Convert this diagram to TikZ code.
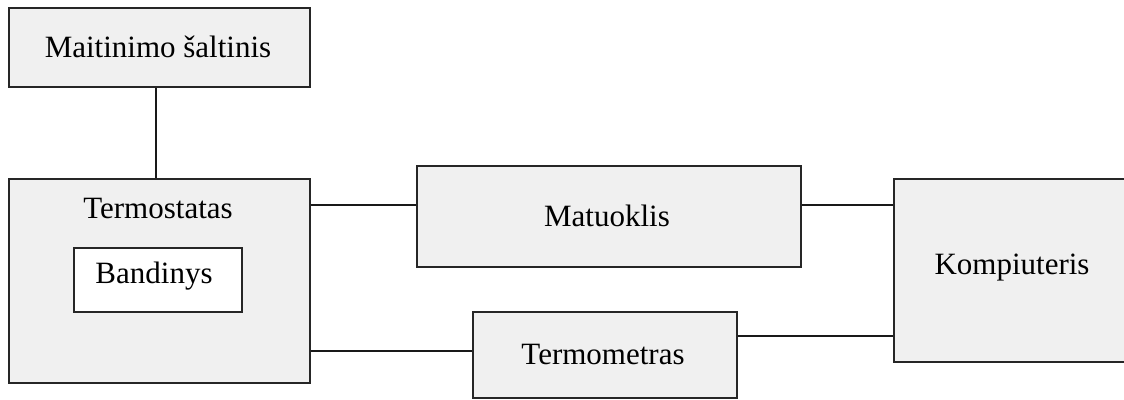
\documentclass[tikz,border=0pt]{standalone}
\usepackage{fontspec}
\setmainfont{Liberation Serif}
\begin{document}
\begin{tikzpicture}[x=1pt,y=-1pt,
  block/.style={draw=black!85,line width=2pt,fill=black!6,inner sep=0pt,rectangle},
  inner/.style={draw=black!85,line width=2pt,fill=white,inner sep=0pt,rectangle},
  lbl/.style={inner sep=0pt,font=\fontsize{31}{36}\selectfont},
  wire/.style={draw=black!90,line width=2pt}]
\useasboundingbox (0,0) rectangle (1124,399);
\clip (0,0) rectangle (1124,399);
\fill[white] (0,0) rectangle (1124,399);

% boxes
\node[block,minimum width=301pt,minimum height=79pt] (pow) at (159.5,47.5) {};
\node[block,minimum width=301pt,minimum height=204pt] (thermo) at (159.5,281) {};
\node[inner,minimum width=168pt,minimum height=64pt] (sample) at (158,280) {};
\node[block,minimum width=384pt,minimum height=101pt] (meter) at (609,216.5) {};
\node[block,minimum width=264pt,minimum height=86pt] (tmeter) at (605,355) {};
\node[block,minimum width=236pt,minimum height=183pt] (pc) at (1012,270.5) {};

% labels
\node[lbl] (powlbl) at (158,47) {Maitinimo šaltinis};
\node[lbl] (thermolbl) at (158,208) {Termostatas};
\node[lbl] (samplelbl) at (154,276) {Bandinys};
\node[lbl] (meterlbl) at (607,216) {Matuoklis};
\node[lbl] (tmeterlbl) at (603,354) {Termometras};
\node[lbl] (pclbl) at (1012,268) {Kompiuteris};

% connector levels
\coordinate (v1) at (156,0);
\coordinate (h1) at (0,204.5);
\coordinate (h2) at (0,351);
\coordinate (h3) at (0,336);

% connectors
\draw[wire] (pow.south -| v1) -- (thermo.north -| v1);
\draw[wire] (thermo.east |- h1) -- (meter.west |- h1);
\draw[wire] (meter.east |- h1) -- (pc.west |- h1);
\draw[wire] (thermo.east |- h2) -- (tmeter.west |- h2);
\draw[wire] (tmeter.east |- h3) -- (pc.west |- h3);
\end{tikzpicture}
\end{document}
